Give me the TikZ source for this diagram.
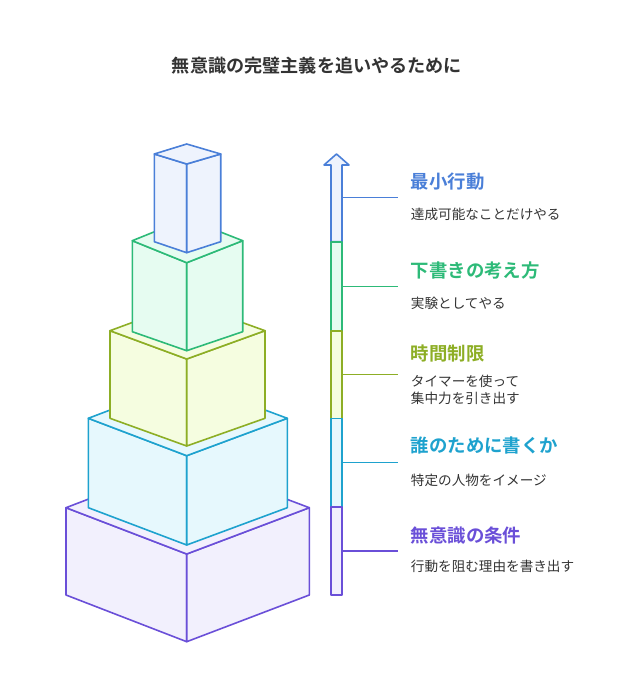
\documentclass[tikz,border=0pt]{standalone}
\usepackage{fontspec}
\setmainfont{Noto Sans CJK JP}[BoldFont={Noto Sans CJK JP Bold}]
\begin{document}
\begin{tikzpicture}[x=0.75pt,y=-0.75pt,line join=round,
  ttl/.style={anchor=west,font=\bfseries\fontsize{13.8}{15}\selectfont,inner sep=0pt},
  dsc/.style={anchor=west,font=\fontsize{10.2}{12.6}\selectfont,inner sep=0pt,align=left,text=black!80},
  seg/.style={line width=1.2pt},tick/.style={line width=1.1pt}]
\definecolor{cA}{HTML}{4A7FD8}\definecolor{fA}{HTML}{EEF3FD}
\definecolor{cB}{HTML}{2DBA78}\definecolor{fB}{HTML}{E6FCF1}
\definecolor{cC}{HTML}{8DAE25}\definecolor{fC}{HTML}{F5FDE0}
\definecolor{cD}{HTML}{1EA2CE}\definecolor{fD}{HTML}{E6F8FD}
\definecolor{cE}{HTML}{6A4FD8}\definecolor{fE}{HTML}{F2F0FD}
\useasboundingbox (0,0) rectangle (640,682);
\node[font=\bfseries\fontsize{13.6}{15}\selectfont,text=black!80] (title) at (317,66) {無意識の完璧主義を追いやるために};
\newcommand{\isobox}[9]{%
  \filldraw[draw=#1,fill=#2,line width=1.2pt] (#3,#6)--(#5,#7)--(#5,#9)--(#3,#8)--cycle;
  \filldraw[draw=#1,fill=#2,line width=1.2pt] (#5,#7)--(#4,#6)--(#4,#8)--(#5,#9)--cycle;
  \filldraw[draw=#1,fill=#2,line width=1.2pt] (#3,#6)--(#5,{2*#6-#7})--(#4,#6)--(#5,#7)--cycle;}
\isobox{cE}{fE}{66}{309.3}{186.7}{507.7}{554}{595}{641.7}
\isobox{cD}{fD}{88.3}{287.3}{186.7}{418.3}{455.7}{507.7}{545}
\isobox{cC}{fC}{110}{265}{186.7}{330.7}{359}{418.3}{446}
\isobox{cB}{fB}{132.3}{242.7}{186.7}{240.7}{262.7}{331.7}{350.7}
\isobox{cA}{fA}{154.3}{220.7}{186.7}{154}{164}{241.7}{252.7}
\filldraw[seg,draw=cA,fill=fA] (331,165)--(324,165)--(336.5,154)--(349,165)--(342,165)--(342,241.7)--(331,241.7)--cycle;
\filldraw[seg,draw=cB,fill=fB] (331,241.7) rectangle (342,330.7);
\filldraw[seg,draw=cC,fill=fC] (331,330.7) rectangle (342,418.3);
\filldraw[seg,draw=cD,fill=fD] (331,418.3) rectangle (342,506.7);
\filldraw[seg,draw=cE,fill=fE] (331,506.7) rectangle (342,595);
\coordinate (a1) at (342,197.7); \coordinate (b1) at (398,197.7);
\coordinate (a2) at (342,286.7); \coordinate (b2) at (398,286.7);
\coordinate (a3) at (342,374.3); \coordinate (b3) at (398,374.3);
\coordinate (a4) at (342,462.3); \coordinate (b4) at (398,462.3);
\coordinate (a5) at (342,551); \coordinate (b5) at (398,551);
\draw[tick,cA] (a1)--(b1); \draw[tick,cB] (a2)--(b2); \draw[tick,cC] (a3)--(b3);
\draw[tick,cD] (a4)--(b4); \draw[tick,cE] (a5)--(b5);
\node[ttl,text=cA] (t1) at (410.7,182) {最小行動};
\node[dsc] (d1) at (410.7,214) {達成可能なことだけやる};
\node[ttl,text=cB] (t2) at (410.7,270.7) {下書きの考え方};
\node[dsc] (d2) at (410.7,303.3) {実験としてやる};
\node[ttl,text=cC] (t3) at (410.7,354) {時間制限};
\node[dsc] (d3) at (410.7,389.7) {タイマーを使って\\集中力を引き出す};
\node[ttl,text=cD] (t4) at (410.7,445) {誰のために書くか};
\node[dsc] (d4) at (410.7,480) {特定の人物をイメージ};
\node[ttl,text=cE] (t5) at (410.7,535.7) {無意識の条件};
\node[dsc] (d5) at (410.7,566.7) {行動を阻む理由を書き出す};
\end{tikzpicture}
\end{document}
